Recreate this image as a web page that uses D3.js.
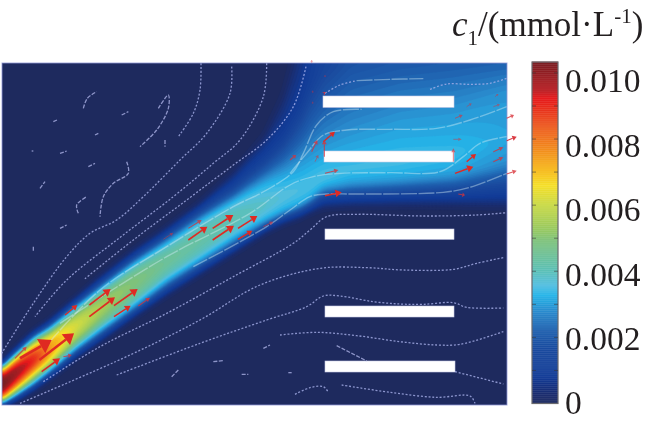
<!DOCTYPE html>
<html><head><meta charset="utf-8">
<script src="https://cdn.jsdelivr.net/npm/d3@7"></script>
<style>html,body{margin:0;padding:0;background:#fff}svg{display:block}</style>
</head><body><svg id="c" width="650" height="422"></svg>
<script>
// --- field stations (field units)
const stationU      = [0,45,100,150,225,300,400,500,600,700,795,850,900,930,970,1050,1200,1362,1521];
const edgeTop       = [950,900,845,810,745,680,600,530,455,360,240,110,-100,-400,-600,-600,-600,-600,-600];
const outerTop      = [962,920,870,835,770,708,628,560,490,420,330,260,160,100,60,40,40,40,40];
const shoulderTop   = [982,940,895,860,795,737,657,590,522,462,405,375,345,325,300,250,200,180,130];
const ridge         = [1014,970,930,895,830,775,700,635,570,510,465,440,420,405,385,360,340,315,270];
const shoulderBot   = [1042,1003,960,932,872,818,752,680,618,558,510,485,465,447,415,400,390,375,340];
const outerBot      = [1058,1030,995,960,903,853,785,713,650,590,532,506,488,472,445,440,440,430,420];
const edgeBot       = [1070,1052,1020,985,925,875,803,738,675,612,552,525,508,492,480,475,475,475,480];
const outerTopV     = [.005,.0045,.004,.0032,.0026,.0022,.0019,.0018,.0018,.0015,.0012,.001,.0009,.0011,.0014,.0018,.002,.0021,.0022];
const shoulderTopV  = [.0098,.0088,.0078,.0066,.0054,.0048,.0043,.0039,.0038,.0036,.0033,.0031,.003,.003,.003,.0029,.0029,.0029,.0029];
const peakV         = [.0110,.0104,.0096,.0078,.0064,.0057,.0051,.0046,.0044,.0042,.0039,.0037,.0036,.0036,.0036,.0035,.0035,.0034,.0031];
const shoulderBotV  = [.0092,.0088,.0078,.0066,.0054,.0048,.0043,.0039,.0038,.0036,.0033,.0032,.0032,.0032,.003,.003,.003,.003,.0028];
const outerBotV     = [.005,.0045,.004,.0032,.0026,.0022,.0019,.0018,.0018,.0016,.0014,.0012,.0012,.0012,.0012,.0012,.001,.0012,.0012];

// --- colour bar
const colorValues = [0,.0003,.0008,.0016,.0022,.0028,.00327,.00358,.004,.00494,.00525,.006,.0066,.00706,.008,.00924,.0095,.01033];
const colorHexes  = ["#1e2a5e","#1a2d70","#113a96","#1a4a9e","#1e5fae","#2a8cce","#25b4e8","#52bee0","#5cc0b8","#7fc27a","#97c962","#c8d946","#f5df2a","#f6b91b","#f0761f","#e5191c","#b51d22","#7a1f24"];
const barTicks    = [.001,.002,.003,.004,.005,.006,.007,.008,.009,.01];
const barLabels   = [0,.002,.004,.006,.008,.01];
const barLabelText= ["0","0.002","0.004","0.006","0.008","0.010"];

// --- white baffles [u0,v0,u1,v1]
const baffles = [[969,138,1362,172],[972,303,1362,336],[975,537,1362,568],[975,768,1362,801],[975,933,1365,966]];

// --- streamlines
const dottedLines = [
 [[603,40],[600,120],[580,190],[535,260]],
 [[695,50],[690,130],[620,250],[540,330],[430,440],[350,510],[270,550],[200,620],[100,760],[5,910]],
 [[800,40],[790,140],[720,270],[640,340],[520,440],[350,570],[200,690],[105,800]],
 [[918,50],[880,170],[800,270],[700,345],[560,450],[400,570],[250,690]],
 [[1290,118],[1340,102],[1410,103],[1470,100],[1520,85]],
 [[975,130],[1020,105],[1070,92]],
 [[60,1060],[390,915],[600,810],[780,705],[960,655],[1100,653],[1210,660],[1360,658],[1430,640],[1515,622]],
 [[130,995],[300,890],[500,790],[700,680],[880,580],[930,540],[980,500],[1070,493],[1270,498],[1430,495],[1520,488]],
 [[350,975],[600,880],[800,810],[920,770],[970,738],[1020,738],[1120,755],[1200,762],[1270,763],[1360,758],[1400,772],[1510,774]],
 [[840,855],[950,847],[1070,857],[1200,875],[1310,885],[1380,883],[1510,845]],
 [[1365,965],[1510,1002]],
 [[885,1033],[930,1013],[970,1010],[985,1027]],
 [[1025,1005],[1170,1027],[1310,1042],[1410,1038],[1425,1060]]
];
const glowLines = [
 [[145,880],[300,720],[500,590],[700,470],[800,420],[880,365],[910,310],[950,225],[1000,185],[1085,178]],
 [[870,370],[920,310],[970,255],[1040,240],[1170,238],[1310,235],[1410,210],[1520,170]],
 [[180,820],[500,620],[750,490],[870,405],[940,380],[1020,370],[1170,368],[1320,365],[1390,320],[1440,280],[1520,260]],
 [[580,650],[800,530],[870,480],[930,440],[980,432],[1070,432],[1330,427],[1410,412],[1520,370]],
 [[1070,92],[1170,88],[1270,86]]
];
const fragmentLines = [
 [[250,175],[262,145],[290,125]],[[160,215],[175,208]],[[365,195],[385,185]],
 [[475,175],[505,135],[505,175],[470,240],[420,290]],[[495,270],[495,290]],[[95,303],[100,303]],
 [[180,310],[200,303]],[[265,350],[285,340]],[[380,335],[385,370],[340,400],[310,440],[300,500]],
 [[235,490],[230,465],[260,440]],[[120,415],[135,395]],[[180,535],[200,525]],[[100,590],[100,605]],
 [[285,255],[295,250]],[[790,895],[810,885]],[[640,935],[670,932]],[[515,980],[535,960]],
 [[725,973],[745,973]],[[865,968],[875,968]],[[1010,887],[1100,933]]
];

// --- velocity arrows [u0,v0,u1,v1,weight]
const arrows = [
 [118,930,222,850,4],[60,925,155,870,5],[45,925,80,890,1],[125,965,180,925,2.2],[190,920,215,915,1],
 [195,795,232,765,1.5],[268,765,332,717,2.4],[268,800,345,742,2.4],[342,767,413,717,2.4],[342,800,392,767,1.8],[415,768,450,743,1],
 [565,535,605,510,1],[565,570,622,530,2.2],[638,535,700,495,2.4],[638,570,702,527,2.4],[714,535,772,498,2.2],[714,568,757,542,1.5],
 [490,568,520,548,.6],[790,530,820,515,.8],
 [870,330,888,315,1],[935,305,952,270,1],[945,335,955,315,.7],[970,275,1005,245,1.5],[973,320,973,270,1],
 [973,135,973,125,1],[975,370,1015,360,1],[975,437,1025,427,2],[1360,335,1360,295,.8],[1365,370,1420,350,2],[1400,335,1428,312,1.5],
 [1360,268,1385,268,.6],[1480,305,1510,292,1],[1480,335,1510,322,1],[1520,272,1550,260,1.2],[1520,205,1542,195,1],
 [1520,372,1550,362,1],[1365,205,1388,195,.8],[1375,432,1395,436,1],[1400,170,1415,160,.5],[1480,170,1500,163,.5],
 [1485,140,1495,132,.4],[935,30,935,38,.5],[938,122,938,128,.5],[938,155,938,161,.4],[975,75,975,81,.5]
];

const panel = {x0:2,x1:507,y0:63,y1:405};
const x = d3.scaleLinear().domain([6,1521]).range([panel.x0,panel.x1]);
const y = d3.scaleLinear().domain([39,1065]).range([panel.y0,panel.y1]);
const color = d3.scaleLinear().domain(colorValues).range(colorHexes).interpolate(d3.interpolateRgb).clamp(true);

const svg = d3.select("#c");
const defs = svg.append("defs");
defs.append("filter").attr("id","soft").attr("x","-5%").attr("y","-5%").attr("width","110%").attr("height","110%")
  .append("feGaussianBlur").attr("stdDeviation",0.6);
defs.append("clipPath").attr("id","pclip").append("rect")
  .attr("x",panel.x0).attr("y",panel.y0).attr("width",panel.x1-panel.x0).attr("height",panel.y1-panel.y0);

// field grid
const step = 4;
const nx = Math.ceil((1521-6)/step)+1, ny = Math.ceil((1065-39)/step)+1;
const at = arr => d3.scaleLinear().domain(stationU).range(arr).clamp(true);
const kn = [edgeTop,outerTop,shoulderTop,ridge,shoulderBot,outerBot,edgeBot].map(at);
const vs = [outerTopV,shoulderTopV,peakV,shoulderBotV,outerBotV].map(at);
let grid = new Float64Array(nx*ny);
for(let i=0;i<nx;i++){
  const u = 6+i*step;
  const prof = d3.scaleLinear().domain(kn.map(f=>f(u))).range([0,...vs.map(f=>f(u)),0]).clamp(true);
  for(let j=0;j<ny;j++) grid[j*nx+i] = prof(39+j*step);
}
if(d3.blur2) d3.blur2({data:grid,width:nx,height:ny},2);

const thresholds = d3.range(0.00006,0.0105,0.00012);
const contours = d3.contours().size([nx,ny]).thresholds(thresholds)(Array.from(grid));
const gx = d3.scaleLinear().domain([0,nx-1]).range([x(6),x(6+(nx-1)*step)]);
const gy = d3.scaleLinear().domain([0,ny-1]).range([y(39),y(39+(ny-1)*step)]);
const path = d3.geoPath(d3.geoTransform({point(a,b){this.stream.point(gx(a-0.5),gy(b-0.5));}}));

const field = svg.append("g").attr("clip-path","url(#pclip)");
field.append("rect").attr("x",panel.x0).attr("y",panel.y0).attr("width",panel.x1-panel.x0).attr("height",panel.y1-panel.y0).attr("fill",color(0));
field.selectAll("path").data(contours).join("path")
  .attr("d",path).attr("fill",d=>color(d.value+0.00006)).attr("stroke",d=>color(d.value+0.00006)).attr("stroke-width",0.3);

// baffles
const over = svg.append("g");
svg.append("rect").attr("x",panel.x0).attr("y",panel.y0).attr("width",panel.x1-panel.x0).attr("height",panel.y1-panel.y0)
  .attr("fill","none").attr("stroke","#8f96d4").attr("stroke-width",1).attr("opacity",.8);
over.selectAll("rect.b").data(baffles).join("rect").attr("class","b")
  .attr("x",d=>x(d[0])).attr("y",d=>y(d[1])).attr("width",d=>x(d[2])-x(d[0])).attr("height",d=>y(d[3])-y(d[1]))
  .attr("fill","#fff").attr("stroke","#c9cbe8").attr("stroke-width",.6);

// streamlines
const line = d3.line().x(d=>x(d[0])).y(d=>y(d[1])).curve(d3.curveCatmullRom.alpha(.5));
const soft = svg.append("g").attr("filter","url(#soft)");
const lineGroup = (data,stroke,w,dash,op)=>soft.append("g").selectAll("path").data(data).join("path")
  .attr("d",line).attr("fill","none").attr("stroke",stroke).attr("stroke-width",w)
  .attr("stroke-dasharray",dash).attr("opacity",op).attr("stroke-linecap","butt");
lineGroup(dottedLines,"#a8b0ea",1.3,"2 1.8",.8);
lineGroup(glowLines,"#d7eef6",1.4,"16 1.5",.42);
lineGroup(fragmentLines,"#b4baee",1.3,"4 1.5",.75);

// arrows
const ag = soft.append("g");
arrows.forEach(a=>{
  const [u0,v0,u1,v1,w]=a;
  const x0=x(u0),y0=y(v0),x1=x(u1),y1=y(v1);
  const ang=Math.atan2(y1-y0,x1-x0), L=Math.hypot(x1-x0,y1-y0);
  const hl=Math.min(L*.4,2.2+w*2), hw=.8+w*1.5;
  const col = w>=1.5 ? "#df2a24" : "#d8323a";
  const op = w>=1.5 ? 1 : Math.max(.55,w*.8);
  ag.append("line").attr("x1",x0).attr("y1",y0).attr("x2",x1-hl*Math.cos(ang)).attr("y2",y1-hl*Math.sin(ang))
    .attr("stroke",col).attr("stroke-width",.6+w*.45).attr("opacity",op);
  const bx=x1-hl*Math.cos(ang),by=y1-hl*Math.sin(ang),px=-Math.sin(ang)*hw,py=Math.cos(ang)*hw;
  ag.append("path").attr("d",`M${x1},${y1}L${bx+px},${by+py}L${bx-px},${by-py}Z`).attr("fill",col).attr("opacity",op);
});

// colour bar
const barScale = d3.scaleLinear().domain([0,.01033]).range([403.5,62]);
const labelScale = d3.scaleLinear().domain([0,.01]).range([403,81]);
const barX=532, barW=26;
const cb = svg.append("g");
cb.selectAll("rect").data(d3.range(0,.01033,.00002)).join("rect")
  .attr("x",barX).attr("width",barW).attr("y",d=>barScale(d+.00002)).attr("height",d=>barScale(d)-barScale(d+.00002)+.4)
  .attr("fill",d=>color(d));
cb.append("rect").attr("x",barX).attr("y",62).attr("width",barW).attr("height",341.5).attr("fill","none").attr("stroke","#6a6a6e").attr("stroke-width",1.2);
cb.selectAll("line.l").data(barTicks).join("line").attr("class","l").attr("x1",barX).attr("x2",barX+4)
  .attr("y1",d=>barScale(d)).attr("y2",d=>barScale(d)).attr("stroke","#333").attr("stroke-width",1).attr("opacity",.55);
cb.selectAll("line.r").data(barTicks).join("line").attr("class","r").attr("x1",barX+barW-4).attr("x2",barX+barW)
  .attr("y1",d=>barScale(d)).attr("y2",d=>barScale(d)).attr("stroke","#333").attr("stroke-width",1).attr("opacity",.55);
svg.append("g").selectAll("text").data(barLabels).join("text")
  .attr("x",565).attr("y",d=>labelScale(d)).attr("dy","0.34em")
  .attr("font-family","'Liberation Serif'").attr("font-size",33.5).attr("fill","#231f20")
  .text((d,i)=>barLabelText[i]);

// title
const t = svg.append("text").attr("x",452).attr("y",36).attr("font-family","'Liberation Serif'").attr("font-size",35).attr("fill","#231f20");
t.append("tspan").attr("font-style","italic").text("c");
t.append("tspan").attr("dy",9).attr("font-size",21).text("1");
t.append("tspan").attr("dy",-9).text("/(mmol·L");
t.append("tspan").attr("dy",-13).attr("font-size",21).text("-1");
t.append("tspan").attr("dy",13).text(")");
</script></body></html>
